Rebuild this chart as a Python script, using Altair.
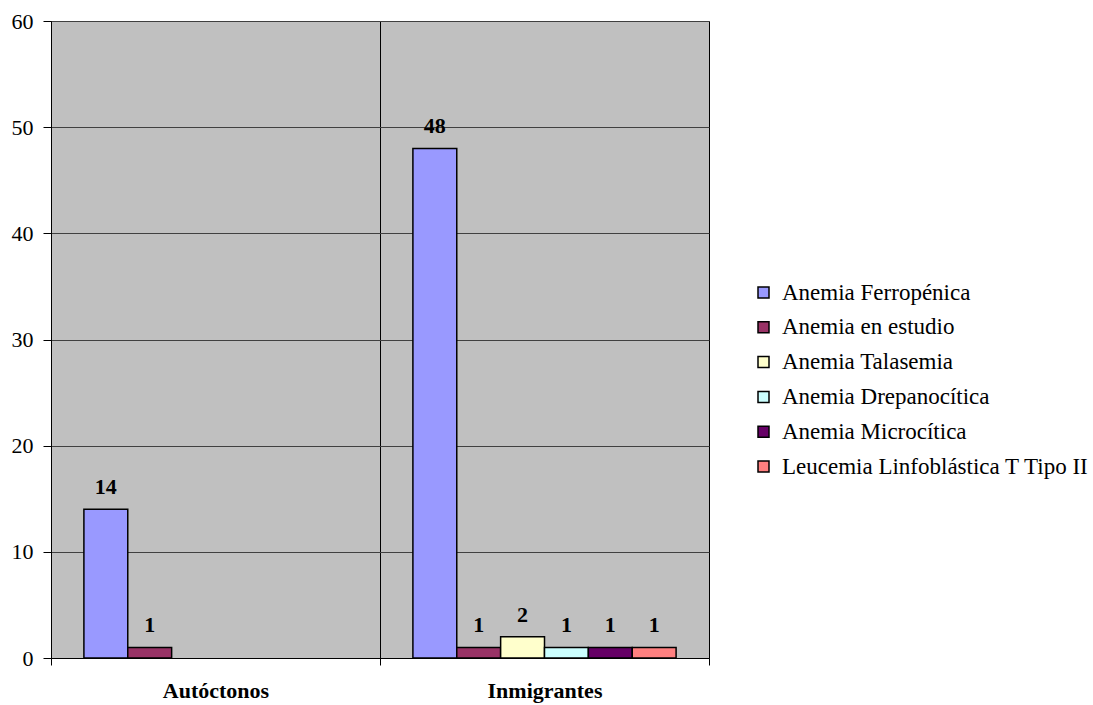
import altair as alt
import pandas as pd

# Diagnoses per population group
groups = ["Autóctonos", "Inmigrantes"]
series = [
    "Anemia Ferropénica",
    "Anemia en estudio",
    "Anemia Talasemia",
    "Anemia Drepanocítica",
    "Anemia Microcítica",
    "Leucemia Linfoblástica T Tipo II",
]
colors = ["#9999FF", "#993366", "#FFFFCC", "#CCFFFF", "#660066", "#FF8080"]

autoctonos = [14, 1, None, None, None, None]
inmigrantes = [48, 1, 2, 1, 1, 1]

rows = []
for grp, vals in zip(groups, [autoctonos, inmigrantes]):
    for s, v in zip(series, vals):
        if v is not None:
            rows.append({"grupo": grp, "diagnostico": s, "casos": v})
df = pd.DataFrame(rows)

FONT = "Liberation Serif"

x_enc = alt.X(
    "grupo:N",
    sort=groups,
    scale=alt.Scale(paddingInner=0, paddingOuter=0),
    axis=alt.Axis(
        title=None,
        labelAngle=0,
        tickBand="extent",
        grid=True,
        gridColor="#000000",
        gridWidth=1,
        domainColor="#000000",
        tickColor="#000000",
        tickSize=7,
        labelPadding=15,
        labelFont=FONT,
        labelFontSize=22,
        labelFontWeight="bold",
        labelColor="#000000",
    ),
)
xoff_enc = alt.XOffset(
    "diagnostico:N",
    sort=series,
    scale=alt.Scale(domain=series, paddingInner=0, paddingOuter=0.75),
)
y_enc = alt.Y(
    "casos:Q",
    scale=alt.Scale(domain=[0, 60], nice=False),
    axis=alt.Axis(
        title=None,
        values=[0, 10, 20, 30, 40, 50, 60],
        grid=True,
        gridColor="#404040",
        gridWidth=1,
        domainColor="#000000",
        tickColor="#000000",
        tickSize=8,
        labelPadding=10,
        labelFont=FONT,
        labelFontSize=22,
        labelColor="#000000",
    ),
)

bars = alt.Chart(df).mark_bar(stroke="#000000", strokeWidth=1.5).encode(
    x=x_enc,
    xOffset=xoff_enc,
    y=y_enc,
    color=alt.Color(
        "diagnostico:N",
        sort=series,
        scale=alt.Scale(domain=series, range=colors),
        legend=alt.Legend(
            title=None,
            orient="none",
            legendX=701,
            legendY=260,
            symbolType="square",
            symbolSize=121,
            symbolStrokeColor="#000000",
            symbolStrokeWidth=1.5,
            labelFont=FONT,
            labelFontSize=23,
            labelColor="#000000",
            labelOffset=7,
            rowPadding=10.8,
            padding=0,
            labelLimit=400,
        ),
    ),
)

labels = alt.Chart(df).mark_text(
    baseline="bottom", dy=-10, font=FONT, fontSize=22, fontWeight="bold", color="#000000"
).encode(
    x=alt.X("grupo:N", sort=groups),
    xOffset=alt.XOffset("diagnostico:N", sort=series),
    y="casos:Q",
    text="casos:Q",
)

chart = (
    alt.layer(bars, labels)
    .properties(
        width=658,
        height=637,
        background="#FFFFFF",
        padding={"left": 51, "top": 21, "right": 384, "bottom": 47},
        autosize=alt.AutoSizeParams(type="none"),
    )
    .configure_view(fill="#C0C0C0", stroke="#808080", strokeWidth=1)
)

chart.save("out.html", embed_options={"renderer": "svg", "actions": False})
